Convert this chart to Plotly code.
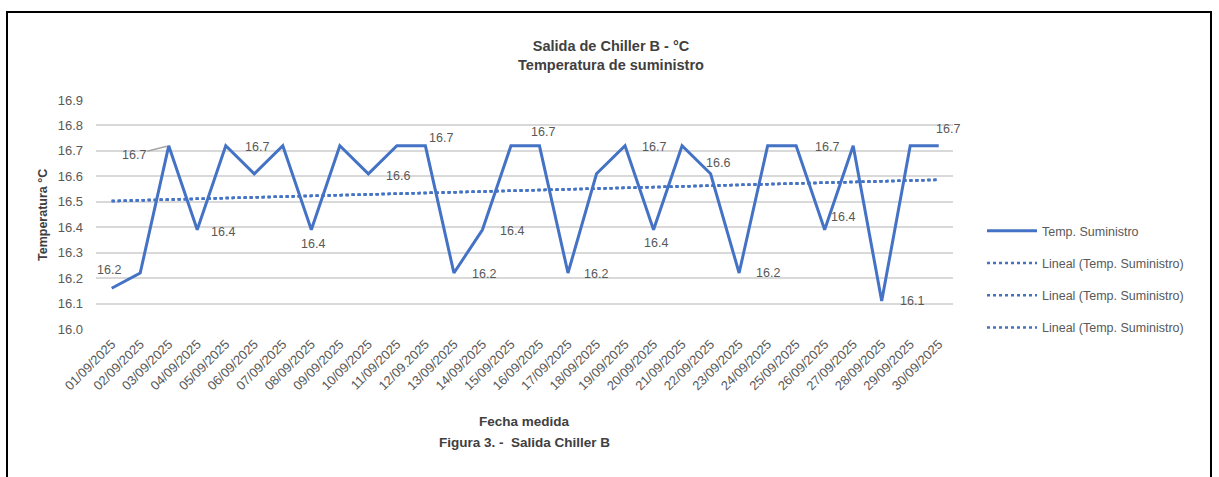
import numpy as np
import plotly.graph_objects as go

# Fechas de medición (etiquetas del eje de categorías)
fechas = [
    "01/09/2025", "02/09/2025", "03/09/2025", "04/09/2025", "05/09/2025",
    "06/09/2025", "07/09/2025", "08/09/2025", "09/09/2025", "10/09/2025",
    "11/09/2025", "12/09.2025", "13/09/2025", "14/09/2025", "15/09/2025",
    "16/09/2025", "17/09/2025", "18/09/2025", "19/09/2025", "20/09/2025",
    "21/09/2025", "22/09/2025", "23/09/2025", "24/09/2025", "25/09/2025",
    "26/09/2025", "27/09/2025", "28/09/2025", "29/09/2025", "30/09/2025",
]

# Temperatura de suministro (°C)
temp_suministro = [
    16.16, 16.22, 16.72, 16.39, 16.72, 16.61, 16.72, 16.39, 16.72, 16.61,
    16.72, 16.72, 16.22, 16.39, 16.72, 16.72, 16.22, 16.61, 16.72, 16.39,
    16.72, 16.61, 16.22, 16.72, 16.72, 16.39, 16.72, 16.11, 16.72, 16.72,
]

y_ticks = [16.0, 16.1, 16.2, 16.3, 16.4, 16.5, 16.6, 16.7, 16.8, 16.9]

# Etiquetas de datos visibles: índice del punto -> desplazamiento (px)
etiquetas = {
    0: (-3, 18), 3: (26, -2), 4: (31, -1), 7: (2, -14), 9: (30, -2),
    11: (16, 8), 12: (30, -1), 13: (30, -1), 15: (4, 14), 16: (28, -1),
    18: (29, -1), 19: (2, -13), 21: (7, 11), 22: (29, 0), 25: (18, 13),
    26: (-26, -1), 27: (30, 0), 29: (9, 17),
}
etiqueta_con_guia = {2: (-35, 9)}

AZUL = "#4472C4"
GRIS_TEXTO = "#595959"
GRIS_TITULO = "#404040"
GRID = "#D9D9D9"
FUENTE = "Liberation Sans, Arial, sans-serif"

W, H = 1219, 477
ML, MR, MT, MB = 96, 266, 100, 148
PW, PH = W - ML - MR, H - MT - MB


def px_x(px):
    return (px - ML) / PW


def px_y(py):
    return 1 - (py - MT) / PH


# Tendencia lineal por mínimos cuadrados
idx = np.arange(1, len(temp_suministro) + 1)
pend, orig = np.polyfit(idx, temp_suministro, 1)
tendencia = pend * idx + orig

fig = go.Figure()
fig.add_trace(go.Scatter(
    x=fechas, y=temp_suministro, mode="lines", name="Temp. Suministro",
    line=dict(color=AZUL, width=3), legendgroup="a",
))
for k in range(3):
    fig.add_trace(go.Scatter(
        x=fechas, y=tendencia, mode="lines", name="Lineal (Temp. Suministro)",
        line=dict(color=AZUL, width=2.5, dash="dot"), legendgroup=f"t{k}",
    ))

anotaciones = []
for i, (dx, dy) in etiquetas.items():
    anotaciones.append(dict(
        x=fechas[i], y=temp_suministro[i], xref="x", yref="y",
        text=f"{temp_suministro[i]:.1f}", showarrow=False,
        xshift=dx, yshift=dy, font=dict(size=12.5, color=GRIS_TEXTO, family=FUENTE),
    ))
for i, (ax, ay) in etiqueta_con_guia.items():
    anotaciones.append(dict(
        x=fechas[i], y=temp_suministro[i], xref="x", yref="y",
        text=f"{temp_suministro[i]:.1f}", showarrow=True, arrowhead=0,
        arrowwidth=1.5, arrowcolor="#A6A6A6", ax=ax, ay=ay, standoff=2,
        font=dict(size=12.5, color=GRIS_TEXTO, family=FUENTE),
    ))

# Títulos de ejes y pie de figura
anotaciones += [
    dict(x=px_x(43), y=px_y(215), xref="paper", yref="paper", text="<b>Temperatura °C</b>",
         textangle=-90, showarrow=False, xanchor="center", yanchor="middle",
         font=dict(size=12.5, color=GRIS_TITULO, family=FUENTE)),
    dict(x=0.5, y=px_y(421), xref="paper", yref="paper", text="<b>Fecha medida</b>",
         showarrow=False, xanchor="center", yanchor="middle",
         font=dict(size=13.5, color=GRIS_TITULO, family=FUENTE)),
    dict(x=0.5, y=px_y(442), xref="paper", yref="paper", text="<b>Figura 3. -  Salida Chiller B</b>",
         showarrow=False, xanchor="center", yanchor="middle",
         font=dict(size=13.5, color=GRIS_TITULO, family=FUENTE)),
]

fig.update_layout(
    width=W, height=H,
    margin=dict(l=ML, r=MR, t=MT, b=MB, autoexpand=False),
    paper_bgcolor="white", plot_bgcolor="white",
    font=dict(family=FUENTE, color=GRIS_TEXTO, size=12),
    title=dict(
        text="<b>Salida de Chiller B - °C</b><br><b>Temperatura de suministro</b>",
        x=611 / W, xanchor="center", y=1 - 51 / H, yanchor="middle", yref="container",
        font=dict(size=14.5, color=GRIS_TITULO, family=FUENTE),
    ),
    xaxis=dict(
        type="category", range=[-0.55, 29.5], tickangle=-45,
        showgrid=False, showline=False, zeroline=False,
        tickfont=dict(size=13, color=GRIS_TEXTO), ticks="", ticklabelstandoff=4,
    ),
    yaxis=dict(
        range=[16.0, 16.9], tickvals=y_ticks, ticktext=[f"{v:.1f}" for v in y_ticks],
        showgrid=True, gridcolor=GRID, gridwidth=1.5, zeroline=False, showline=False,
        tickfont=dict(size=13, color=GRIS_TEXTO), ticklabelstandoff=12,
    ),
    legend=dict(
        x=px_x(982), y=px_y(216), xanchor="left", yanchor="top",
        font=dict(size=12.5, color=GRIS_TEXTO), tracegroupgap=13, itemwidth=50,
        bgcolor="rgba(0,0,0,0)",
    ),
    annotations=anotaciones,
    shapes=[dict(
        type="rect", xref="paper", yref="paper",
        x0=px_x(7), x1=px_x(1211), y0=px_y(485), y1=px_y(12),
        line=dict(color="black", width=2), fillcolor="rgba(0,0,0,0)", layer="above",
    )],
)

fig.write_html("out.html")
